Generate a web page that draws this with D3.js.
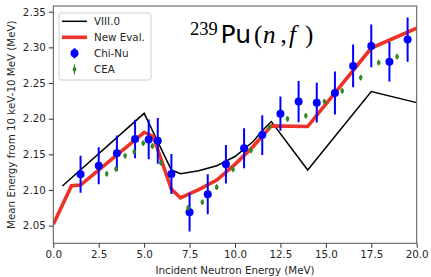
<!DOCTYPE html>
<html><head><meta charset="utf-8">
<script src="https://cdn.jsdelivr.net/npm/d3@7"></script>
<style>body{margin:0;background:#fff}svg{display:block}text{font-family:"DejaVu Sans",sans-serif}</style>
</head><body>
<svg id="c" width="431" height="277"></svg>
<script>
// VIII.0 evaluation
const viiiE = [0.5, 5.0, 6.5, 7.0, 8.0, 9.0, 10.0, 11.0, 11.5, 12.0, 14.0, 17.5, 20.0];
const viiiV = [2.1057, 2.2075, 2.128, 2.1228, 2.127, 2.134, 2.147, 2.168, 2.183, 2.196, 2.128, 2.238, 2.2225];
// New evaluation
const newE = [0, 1.0, 1.5, 5.0, 5.5, 6.5, 7.0, 8.0, 9.0, 10.0, 11.0, 12.0, 14.0, 17.5, 20.0];
const newV = [2.052, 2.106, 2.107, 2.181, 2.175, 2.101, 2.089, 2.1005, 2.114, 2.136, 2.161, 2.190, 2.189, 2.299, 2.327];
// Chi-Nu data
const chiE = [1.5, 2.5, 3.5, 4.5, 5.25, 5.75, 6.5, 7.5, 8.5, 9.5, 10.5, 11.5, 12.5, 13.5, 14.5, 15.5, 16.5, 17.5, 18.5, 19.5];
const chiV = [2.122, 2.134, 2.1515, 2.1716, 2.171, 2.169, 2.1225, 2.069, 2.094, 2.136, 2.1585, 2.177, 2.207, 2.224, 2.2225, 2.236, 2.274, 2.302, 2.280, 2.311];
const chiErr = [0.026, 0.026, 0.025, 0.027, 0.028, 0.032, 0.028, 0.027, 0.028, 0.027, 0.028, 0.028, 0.024, 0.029, 0.028, 0.030, 0.030, 0.030, 0.028, 0.031];
// CEA data
const ceaE = [2.94, 3.45, 3.95, 4.45, 4.95, 5.45, 5.92, 7.42, 8.2, 8.99, 9.89, 10.88, 11.89, 12.89, 13.9, 14.92, 15.9, 16.92, 17.91, 18.92];
const ceaV = [2.1225, 2.1295, 2.148, 2.1535, 2.1656, 2.1615, 2.138, 2.075, 2.083, 2.104, 2.129, 2.1555, 2.188, 2.1997, 2.204, 2.224, 2.239, 2.2576, 2.2786, 2.287];
const ceaErr = [0.004, 0.004, 0.004, 0.004, 0.004, 0.004, 0.004, 0.004, 0.004, 0.004, 0.004, 0.004, 0.004, 0.004, 0.004, 0.004, 0.004, 0.004, 0.004, 0.004];
// ticks & labels
const xTicks = [0, 2.5, 5, 7.5, 10, 12.5, 15, 17.5, 20];
const yTicks = [2.05, 2.10, 2.15, 2.20, 2.25, 2.30, 2.35];
const legendLabels = ["VIII.0", "New Eval.", "Chi-Nu", "CEA"];

const L = 53.3, R = 416.7, T = 6, B = 243.3;
const x = d3.scaleLinear().domain([0, 20]).range([L, R]);
const y = d3.scaleLinear().domain([2.0253, 2.358]).range([B, T]);
const svg = d3.select("#c");
const RED = "#ef3228", BLUE = "#0000ff", GREEN = "#2f8a25";

const plot = svg.append("g");
plot.append("defs").append("clipPath").attr("id", "cp").append("rect")
  .attr("x", L).attr("y", T).attr("width", R - L).attr("height", B - T);
const g = plot.append("g").attr("clip-path", "url(#cp)");
const line = d3.line().x(d => x(d[0])).y(d => y(d[1]));

g.append("path").datum(d3.zip(viiiE, viiiV)).attr("d", line)
  .attr("fill", "none").attr("stroke", "#000").attr("stroke-width", 1.5);
g.append("path").datum(d3.zip(newE, newV)).attr("d", line)
  .attr("fill", "none").attr("stroke", RED).attr("stroke-width", 3.6).attr("stroke-linejoin", "miter");

const chi = d3.zip(chiE, chiV, chiErr);
g.selectAll(".cbar").data(chi).join("line")
  .attr("x1", d => x(d[0])).attr("x2", d => x(d[0]))
  .attr("y1", d => y(d[1] - d[2])).attr("y2", d => y(d[1] + d[2]))
  .attr("stroke", BLUE).attr("stroke-width", 2);
g.selectAll(".cdot").data(chi).join("circle")
  .attr("cx", d => x(d[0])).attr("cy", d => y(d[1])).attr("r", 4).attr("fill", BLUE);

const cea = d3.zip(ceaE, ceaV, ceaErr);
g.selectAll(".gbar").data(cea).join("line")
  .attr("x1", d => x(d[0])).attr("x2", d => x(d[0]))
  .attr("y1", d => y(d[1] - d[2])).attr("y2", d => y(d[1] + d[2]))
  .attr("stroke", GREEN).attr("stroke-width", 1.2);
g.selectAll(".gdot").data(cea).join("ellipse")
  .attr("cx", d => x(d[0])).attr("cy", d => y(d[1])).attr("rx", 1.8).attr("ry", 2.4).attr("fill", GREEN);

// frame
svg.append("rect").attr("x", L).attr("y", T).attr("width", R - L).attr("height", B - T)
  .attr("fill", "none").attr("stroke", "#555").attr("stroke-width", 1);

// axes
const xAxis = d3.axisBottom(x).tickValues(xTicks).tickFormat(d3.format(".1f")).tickSizeOuter(0).tickSize(4.5).tickPadding(3);
const yAxis = d3.axisLeft(y).tickValues(yTicks).tickFormat(d3.format(".2f")).tickSizeOuter(0).tickSize(4.5).tickPadding(3);
const gx = svg.append("g").attr("transform", `translate(0,${B})`).call(xAxis);
const gy = svg.append("g").attr("transform", `translate(${L},0)`).call(yAxis);
[gx, gy].forEach(a => {
  a.select(".domain").remove();
  a.selectAll("line").attr("stroke", "#333");
  a.selectAll("text").attr("fill", "#262626").style("font-size", "10.3px").style("font-family", "DejaVu Sans");
});

svg.append("text").attr("x", (L + R) / 2).attr("y", 274).attr("text-anchor", "middle")
  .attr("fill", "#262626").style("font-size", "10.3px").text("Incident Neutron Energy (MeV)");
svg.append("text").attr("transform", `translate(15,${(T + B) / 2}) rotate(-90)`).attr("text-anchor", "middle")
  .attr("fill", "#262626").style("font-size", "10.3px").text("Mean Energy from 10 keV-10 MeV (MeV)");

// title
const t = svg.append("text").attr("y", 42.7).attr("fill", "#000");
const serif = "Liberation Serif";
t.append("tspan").attr("x", 190).attr("y", 34.5).style("font-family", serif).style("font-size", "18.5px").text("239");
t.append("tspan").attr("x", 220.5).attr("y", 42.7).style("font-family", "DejaVu Sans").style("font-size", "25px").text("Pu");
t.append("tspan").attr("x", 254).style("font-family", serif).style("font-size", "25px").text("(");
t.append("tspan").attr("x", 263).style("font-family", serif).style("font-size", "25px").style("font-style", "italic").text("n");
t.append("tspan").attr("x", 280.5).style("font-family", serif).style("font-size", "25px").text(",");
t.append("tspan").attr("x", 289).style("font-family", serif).style("font-size", "25px").style("font-style", "italic").text("f");
t.append("tspan").attr("x", 305).style("font-family", serif).style("font-size", "25px").text(")");

// legend
const lg = svg.append("g");
lg.append("rect").attr("x", 59).attr("y", 13).attr("width", 92).attr("height", 67).attr("rx", 2.5)
  .attr("fill", "#fff").attr("fill-opacity", 0.8).attr("stroke", "#ccc").attr("stroke-width", 1);
const rowY = [21.3, 37.3, 53.3, 69.3];
lg.append("line").attr("x1", 62).attr("x2", 87).attr("y1", rowY[0]).attr("y2", rowY[0]).attr("stroke", "#000").attr("stroke-width", 1.5);
lg.append("line").attr("x1", 62).attr("x2", 87).attr("y1", rowY[1]).attr("y2", rowY[1]).attr("stroke", RED).attr("stroke-width", 3.6);
lg.append("line").attr("x1", 74.5).attr("x2", 74.5).attr("y1", rowY[2] - 5).attr("y2", rowY[2] + 5).attr("stroke", BLUE).attr("stroke-width", 2);
lg.append("circle").attr("cx", 74.5).attr("cy", rowY[2]).attr("r", 4).attr("fill", BLUE);
lg.append("line").attr("x1", 74.5).attr("x2", 74.5).attr("y1", rowY[3] - 5).attr("y2", rowY[3] + 5).attr("stroke", GREEN).attr("stroke-width", 1.2);
lg.append("ellipse").attr("cx", 74.5).attr("cy", rowY[3]).attr("rx", 1.8).attr("ry", 2.4).attr("fill", GREEN);
lg.selectAll(".lt").data(legendLabels).join("text")
  .attr("x", 94).attr("y", (d, i) => rowY[i] + 3.7)
  .attr("fill", "#262626").style("font-size", "10.3px").text(d => d);
</script>
</body></html>
